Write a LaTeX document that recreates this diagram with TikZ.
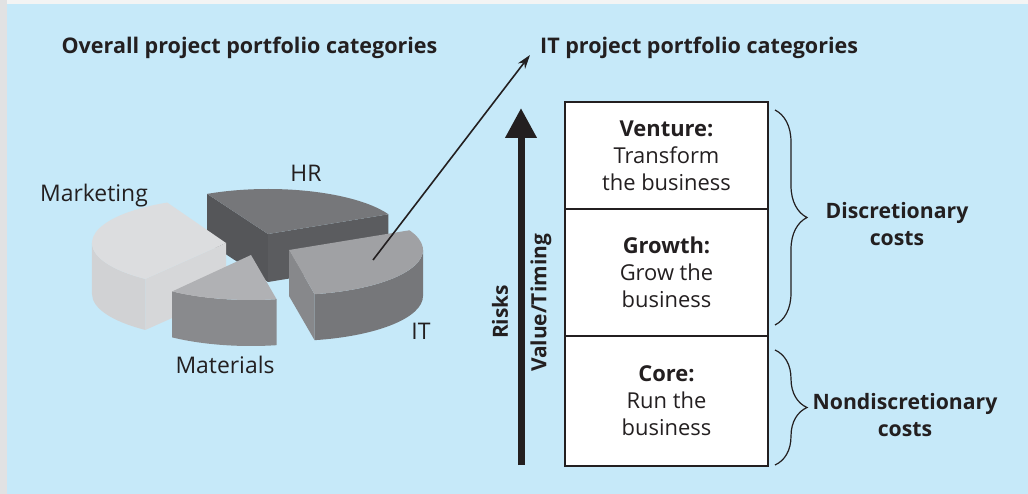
\documentclass[tikz,border=0pt]{standalone}
\usepackage{fontspec}
\setmainfont{Open Sans}
\usetikzlibrary{arrows.meta}
\usetikzlibrary{positioning}
\usetikzlibrary{decorations.pathreplacing}

\definecolor{skyblue}{HTML}{C6E9F9}
\definecolor{framegrey}{HTML}{E1E2E3}
\definecolor{ink}{HTML}{231F20}
\definecolor{hrtop}{HTML}{76777A}
\definecolor{hrleft}{HTML}{555659}
\definecolor{hrright}{HTML}{5B5C5F}
\definecolor{mktop}{HTML}{DCDDDF}
\definecolor{mkcut}{HTML}{D6D7D9}
\definecolor{mkside}{HTML}{D1D2D4}
\definecolor{mattop}{HTML}{B0B1B4}
\definecolor{matside}{HTML}{898A8D}
\definecolor{ittop}{HTML}{A0A1A4}
\definecolor{itcut}{HTML}{87888B}
\definecolor{itside}{HTML}{76777A}

% pie geometry (ellipse radii)
\def\RX{134}
\def\RY{45}
\newcommand{\pieside}[4]{\fill[#4] (#1:\RX bp and \RY bp) arc[start angle=#1, end angle=#2, x radius=\RX bp, y radius=\RY bp] -- ++(0,-#3) arc[start angle=#2, end angle=#1, x radius=\RX bp, y radius=\RY bp] -- cycle;}
\newcommand{\piecut}[3]{\fill[#3] (0,0) -- (#1:\RX bp and \RY bp) -- ++(0,-#2) -- (0,-#2) -- cycle;}
\newcommand{\pietop}[3]{\fill[#3] (0,0) -- (#1:\RX bp and \RY bp) arc[start angle=#1, end angle=#2, x radius=\RX bp, y radius=\RY bp] -- cycle;}

\begin{document}
\begin{tikzpicture}[x=1bp, y=1bp,
    title/.style = {font=\fontsize{21.6}{26}\selectfont\bfseries, text=ink, inner sep=0},
    lbl/.style = {font=\fontsize{23}{27}\selectfont, text=ink, inner sep=0},
    stage/.style = {draw=ink, line width=1.3bp, fill=white, minimum width=203bp, outer sep=0,
        align=center, text=ink, font=\fontsize{22}{27}\selectfont},
    costs/.style = {font=\fontsize{21.3}{28}\selectfont\bfseries, text=ink, align=center, inner sep=0},
    brc/.style = {draw=ink, line width=1.2bp, decorate, decoration={brace, amplitude=32bp}}]

    % background
    \fill[framegrey] (0,0) rectangle (1028,-494);
    \fill[white!60!framegrey] (7,0) rectangle (1028,-4);
    \fill[skyblue] (7,-4) rectangle (1028,-494);

    \node[title] (alltitle) at (249.5,-48) {Overall project portfolio categories};
    \node[title, anchor=west] (ittitle) at (540,-48) {IT project portfolio categories};

    % HR slice
    \begin{scope}[shift={(268,-234)}]
        \piecut{117}{48}{hrleft}
        \piecut{26}{48}{hrright}
        \pietop{26}{117}{hrtop}
    \end{scope}

    % Marketing slice
    \begin{scope}[shift={(226,-243)}]
        \piecut{233}{51}{mkcut}
        \pieside{180}{233}{51}{mkside}
        \pietop{116}{233}{mktop}
    \end{scope}

    % IT slice
    \begin{scope}[shift={(289,-250)}]
        \piecut{281}{46}{itcut}
        \pieside{281}{360}{46}{itside}
        \pietop{281}{386}{ittop}
    \end{scope}

    % Materials slice
    \begin{scope}[shift={(251,-255)}]
        \pieside{234}{281}{46}{matside}
        \pietop{234}{281}{mattop}
    \end{scope}

    \node[lbl] (marketing) at (94,-196) {Marketing};
    \node[lbl] (hr) at (306,-173) {HR};
    \node[lbl] (itlbl) at (421,-331) {IT};
    \node[lbl] (materials) at (225,-365) {Materials};

    \coordinate (itpick) at (373,-260);
    \coordinate (itend) at (530,-55);
    \draw[ink, line width=1.6bp, -{Stealth[length=14bp, width=9bp]}] (itpick) -- (itend);

    % stacked categories
    \node[stage, minimum height=107bp] (venture) at (666.5,-155.5) {\textbf{Venture:}\\Transform\\the business};
    \node[stage, minimum height=127bp, below=0pt of venture] (growth) {\textbf{Growth:}\\Grow the\\business};
    \node[stage, minimum height=130bp, below=0pt of growth] (core) {\textbf{Core:}\\Run the\\business};

    \coordinate (vbot) at (521,-465);
    \coordinate (vtop) at (521,-108);
    \draw[ink, line width=7bp, -{Triangle[length=30bp, width=30bp]}] (vbot) -- (vtop);
    \node[title, rotate=90, font=\fontsize{21}{24}\selectfont\bfseries] (risks) at (500,-312) {Risks};
    \node[title, rotate=90, font=\fontsize{21}{24}\selectfont\bfseries] (valtime) at (541,-303) {Value/Timing};

    % braces
    \coordinate (dtop) at (775,-110);
    \coordinate (dbot) at (775,-325);
    \coordinate (ntop) at (775,-350);
    \coordinate (nbot) at (775,-465);
    \draw[brc] (dtop) -- (dbot);
    \draw[brc] (ntop) -- (nbot);
    \node[costs] (disc) at (897,-224) {Discretionary\\costs};
    \node[costs] (nondisc) at (905,-415) {Nondiscretionary\\costs};

\end{tikzpicture}
\end{document}
